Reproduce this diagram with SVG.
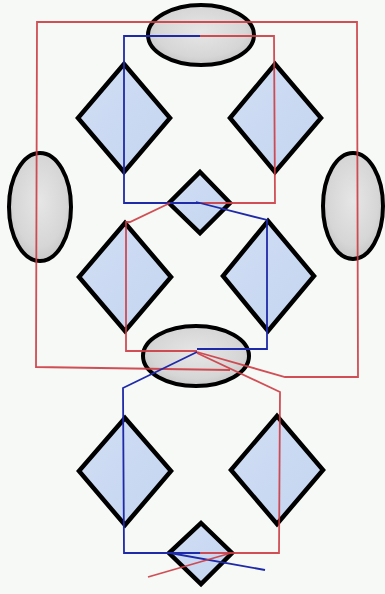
<svg xmlns="http://www.w3.org/2000/svg" width="385" height="594" viewBox="0 0 385 594">
<defs>
<radialGradient id="eg" cx="50%" cy="45%" r="60%">
<stop offset="0" stop-color="#e6e6e6"/>
<stop offset="0.7" stop-color="#d6d6d6"/>
<stop offset="1" stop-color="#c2c2c2"/>
</radialGradient>
<linearGradient id="dg" x1="0" y1="0" x2="1" y2="1">
<stop offset="0" stop-color="#d0def4"/>
<stop offset="1" stop-color="#c5d5f0"/>
</linearGradient>
</defs>
<style>
.ell{fill:url(#eg);stroke:#000;stroke-width:4}
.dia{fill:url(#dg);stroke:#000;stroke-width:4.5;stroke-linejoin:miter}
.r{fill:none;stroke:#cc3b42;stroke-width:1.8;stroke-opacity:0.9}
.b{fill:none;stroke:#1f2aa8;stroke-width:1.8}
</style>
<rect width="385" height="594" fill="#f6f9f6"/>
<g id="ellipse-top"><ellipse class="ell" cx="201" cy="35" rx="53" ry="30"/></g>
<g id="ellipse-left"><ellipse class="ell" cx="40" cy="207" rx="31" ry="54"/></g>
<g id="ellipse-right"><ellipse class="ell" cx="353" cy="206" rx="30" ry="53"/></g>
<g id="ellipse-mid"><ellipse class="ell" cx="196" cy="356" rx="53" ry="30"/></g>
<g id="diamond-tl"><polygon class="dia" points="124,64 170,118 124,172 78,118"/></g>
<g id="diamond-tr"><polygon class="dia" points="275,64 321,118 275,172 230,118"/></g>
<g id="diamond-small1"><polygon class="dia" points="200,172 230,203 200,233 169,203"/></g>
<g id="diamond-ml"><polygon class="dia" points="125,223 171,277 125,331 79,277"/></g>
<g id="diamond-mr"><polygon class="dia" points="268,221 314,276 268,331 223,276"/></g>
<g id="diamond-bl"><polygon class="dia" points="125,418 171,471 125,525 79,471"/></g>
<g id="diamond-br"><polygon class="dia" points="277,416 323,470 277,524 231,470"/></g>
<g id="diamond-small2"><polygon class="dia" points="201,523 232,553 201,584 169,553"/></g>
<g id="connectors">
<polyline class="r" points="197,352 285,377 358,377 357,22 37,22 36,367 230,370"/>
<polyline class="b" points="200,36 124,36 124,203 200,203"/>
<polyline class="r" points="200,36 274,36 275,203 200,203"/>
<polyline class="b" points="196,202 267,220 267,349 197,349"/>
<polyline class="r" points="170,203 130,222 126,222 126,351 197,351"/>
<polyline class="b" points="197,352 123,388 124,553 200,553"/>
<polyline class="r" points="197,353 280,392 279,553 200,553"/>
<line class="b" x1="170" y1="553" x2="265" y2="570"/>
<line class="r" x1="231" y1="553" x2="148" y2="577"/>
</g>
</svg>
